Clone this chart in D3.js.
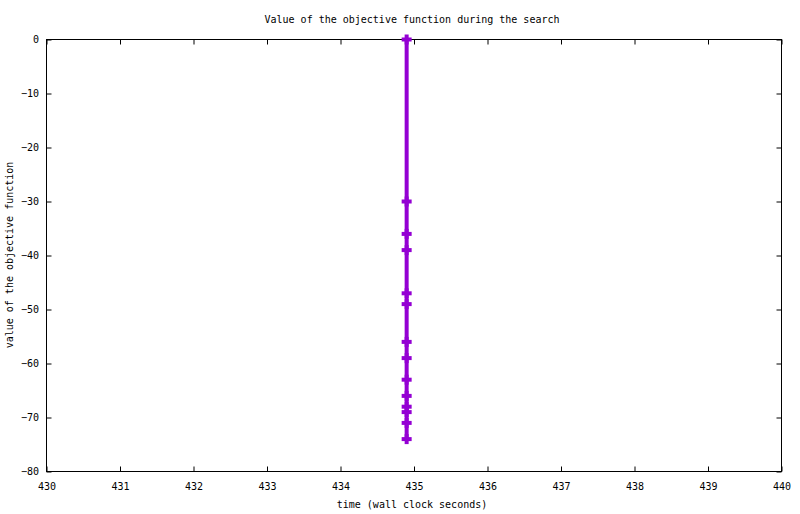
<!DOCTYPE html>
<html>
<head>
<meta charset="utf-8">
<script src="https://cdn.jsdelivr.net/npm/d3@7"></script>
<style>
  body { margin: 0; background: #fff; }
  text { font-family: "DejaVu Sans Mono", monospace; font-size: 10px; fill: #000; }
</style>
</head>
<body>
<script>
// time stamps of each improvement (wall clock seconds)
const times = [434.9, 434.9, 434.9, 434.9, 434.9, 434.9, 434.9, 434.9, 434.9, 434.9, 434.9, 434.9, 434.9, 434.9];
// objective value at each of those times
const objective = [0, -30, -36, -39, -47, -49, -56, -59, -63, -66, -68, -69, -71, -74];
const xTicks = [430, 431, 432, 433, 434, 435, 436, 437, 438, 439, 440];
const yTicks = [0, -10, -20, -30, -40, -50, -60, -70, -80];

const width = 800, height = 514;
const m = {left: 46.5, right: 781.5, top: 39.5, bottom: 471.5};

let svg = d3.select("body").append("svg")
  .attr("width", width)
  .attr("height", height);

let x = d3.scaleLinear().domain([430, 440]).range([m.left, m.right]);
let y = d3.scaleLinear().domain([-80, 0]).range([m.bottom, m.top]);

// axes with inward ticks, mirrored on the opposite sides
const tick = 5;
let bottomAxis = d3.axisBottom(x).tickValues(xTicks).tickSize(-tick).tickPadding(11).tickFormat(d3.format("d"));
let topAxis = d3.axisTop(x).tickValues(xTicks).tickSize(-tick).tickFormat("");
let leftAxis = d3.axisLeft(y).tickValues(yTicks).tickSize(-tick).tickPadding(7.5).tickFormat(d3.format("d"));
let rightAxis = d3.axisRight(y).tickValues(yTicks).tickSize(-tick).tickFormat("");

function style(g) {
  g.select(".domain").remove();
  g.selectAll("line").attr("stroke", "#000");
  g.selectAll("text").style("font-family", "DejaVu Sans Mono, monospace").style("font-size", "10px");
}

svg.append("g").attr("transform", `translate(0,${m.bottom})`).call(bottomAxis).call(style);
svg.append("g").attr("transform", `translate(0,${m.top})`).call(topAxis).call(style);
svg.append("g").attr("transform", `translate(${m.left},0)`).call(leftAxis).call(style);
svg.append("g").attr("transform", `translate(${m.right},0)`).call(rightAxis).call(style);

// border
svg.append("rect")
  .attr("x", m.left).attr("y", m.top)
  .attr("width", m.right - m.left).attr("height", m.bottom - m.top)
  .attr("fill", "none").attr("stroke", "#000").attr("stroke-width", 1);

// titles
svg.append("text").attr("x", 412).attr("y", 23).attr("text-anchor", "middle")
  .text("Value of the objective function during the search");
svg.append("text").attr("x", 412).attr("y", 508).attr("text-anchor", "middle")
  .text("time (wall clock seconds)");
svg.append("text").attr("transform", "translate(13,255) rotate(-90)").attr("text-anchor", "middle")
  .text("value of the objective function");

// data
const data = times.map((t, i) => ({t: t, v: objective[i]}));
const color = "#9400d3";

let line = d3.line().x(d => x(d.t)).y(d => y(d.v));
svg.append("path")
  .datum(data)
  .attr("d", line)
  .attr("fill", "none")
  .attr("stroke", color)
  .attr("stroke-width", 4);

let pts = svg.selectAll(".pt")
  .data(data)
  .join("g")
  .classed("pt", true)
  .attr("transform", d => `translate(${x(d.t)},${y(d.v)})`);
pts.append("rect").attr("x", -5).attr("y", -2).attr("width", 10).attr("height", 4).attr("fill", color);
pts.append("rect").attr("x", -2).attr("y", -5).attr("width", 4).attr("height", 10).attr("fill", color);
</script>
</body>
</html>
